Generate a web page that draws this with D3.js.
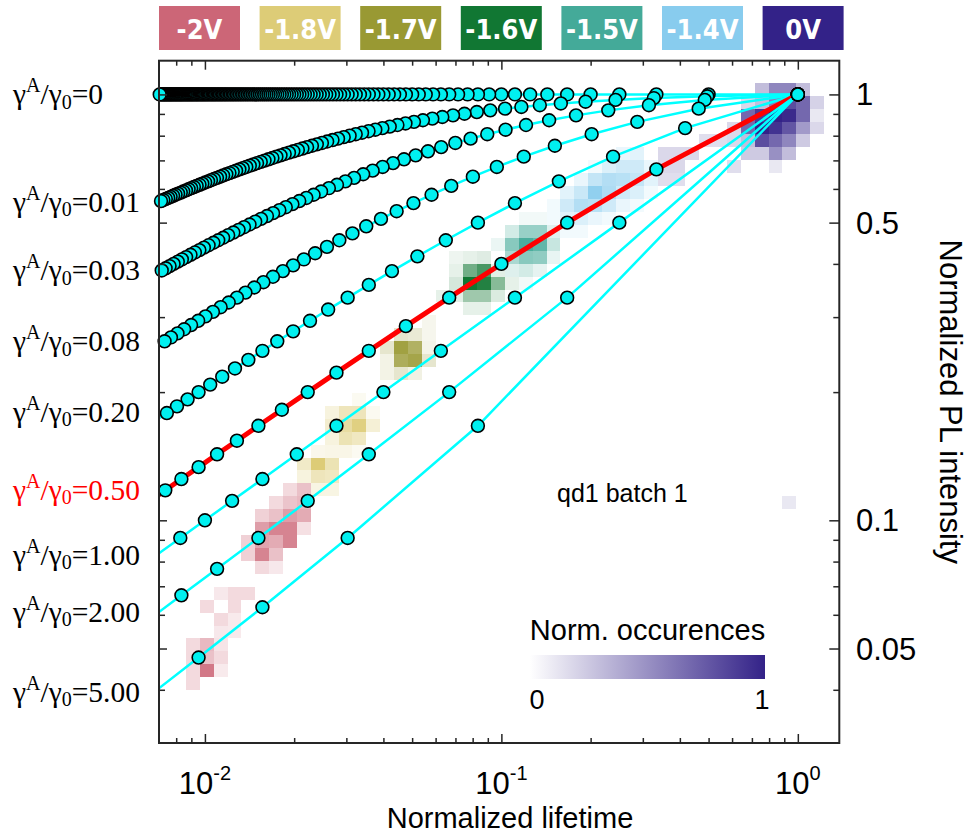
<!DOCTYPE html>
<html>
<head>
<meta charset="utf-8">
<script src="https://cdn.jsdelivr.net/npm/d3@7"></script>
<style>
  html, body { margin: 0; padding: 0; background: #fff; }
  svg { display: block; }
</style>
</head>
<body>
<svg id="chart" width="968" height="833"></svg>
<script>
// ---------------------------------------------------------------
// Data
// ---------------------------------------------------------------
const voltages = ["-2V", "-1.8V", "-1.7V", "-1.6V", "-1.5V", "-1.4V", "0V"];
const voltageColors = ["#CC6677", "#DDCC77", "#999933", "#117733", "#44AA99", "#88CCEE", "#332288"];

// Auger-to-radiative rate ratios of the model curves and their labels
const augerRatios = [0, 0.01, 0.03, 0.08, 0.2, 0.5, 1, 2, 5];
const augerLabels = ["0", "0.01", "0.03", "0.08", "0.20", "0.50", "1.00", "2.00", "5.00"];
const augerLabelIntensity = [1, 0.56, 0.387, 0.263, 0.18, 0.118, 0.083, 0.061, 0.0396];
const highlightedRatio = 0.5;

// model curves: normalized lifetime / normalized PL intensity
const lifetimeR0 = [1,0.5,0.3333,0.25,0.2,0.1667,0.1429,0.125,0.1111,0.1,
  0.09091,0.08333,0.07692,0.07143,0.06667,0.0625,0.05882,0.05556,0.05263,0.05,
  0.04762,0.04545,0.04348,0.04167,0.04,0.03846,0.03704,0.03571,0.03448,0.03333,
  0.03226,0.03125,0.0303,0.02941,0.02857,0.02778,0.02703,0.02632,0.02564,0.025,
  0.02439,0.02381,0.02326,0.02273,0.02222,0.02174,0.02128,0.02083,0.02041,0.02,
  0.01961,0.01923,0.01887,0.01852,0.01818,0.01786,0.01754,0.01724,0.01695,0.01667,
  0.01639,0.01613,0.01587,0.01563,0.01538,0.01515,0.01493,0.01471,0.01449,0.01429,
  0.01408,0.01389,0.0137,0.01351,0.01333,0.01316,0.01299,0.01282,0.01266,0.0125,
  0.01235,0.0122,0.01205,0.0119,0.01176,0.01163,0.01149,0.01136,0.01124,0.01111,
  0.01099,0.01087,0.01075,0.01064,0.01053,0.01042,0.01031,0.0102,0.0101,0.01,
  0.0099,0.0098,0.00971,0.00962,0.00952,0.00943,0.00935,0.00926,0.00917,0.00909,
  0.00901,0.00893,0.00885,0.00877,0.0087,0.00862,0.00855,0.00847,0.0084,0.00833,
  0.00826,0.0082,0.00813,0.00806,0.008,0.00794,0.00787,0.00781,0.00775,0.00769,
  0.00763,0.00758,0.00752,0.00746,0.00741,0.00735,0.0073,0.00725,0.00719,0.00714,
  0.00709,0.00704,0.00699];
const intensityR0 = [1,1,1,1,1,1,1,1,1,1, 1,1,1,1,1,1,1,1,1,1, 1,1,1,1,1,1,1,1,1,1,
  1,1,1,1,1,1,1,1,1,1, 1,1,1,1,1,1,1,1,1,1, 1,1,1,1,1,1,1,1,1,1, 1,1,1,1,1,1,1,1,1,1,
  1,1,1,1,1,1,1,1,1,1, 1,1,1,1,1,1,1,1,1,1, 1,1,1,1,1,1,1,1,1,1, 1,1,1,1,1,1,1,1,1,1,
  1,1,1,1,1,1,1,1,1,1, 1,1,1,1,1,1,1,1,1,1, 1,1,1,1,1,1,1,1,1,1, 1,1,1];

const lifetimeR001 = [1,0.495,0.3268,0.2427,0.1923,0.1587,0.1348,0.1168,0.1029,0.09174,
  0.08264,0.07508,0.06868,0.06321,0.05848,0.05435,0.05071,0.04748,0.0446,0.04202,
  0.03968,0.03757,0.03564,0.03388,0.03226,0.03077,0.02939,0.02812,0.02694,0.02584,
  0.02481,0.02385,0.02296,0.02211,0.02132,0.02058,0.01987,0.01921,0.01858,0.01799,
  0.01742,0.01689,0.01638,0.01589,0.01543,0.01499,0.01457,0.01417,0.01379,0.01342,
  0.01307,0.01274,0.01241,0.0121,0.01181,0.01152,0.01125,0.01098,0.01073,0.01048,
  0.01025,0.01002,0.0098,0.00959,0.00938,0.00918,0.00899,0.00881,0.00863,0.00845,
  0.00829,0.00812,0.00796,0.00781,0.00766,0.00752,0.00738,0.00724,0.00711,0.00698];
const intensityR001 = [1,0.9901,0.9804,0.9709,0.9615,0.9524,0.9434,0.9346,0.9259,0.9174,
  0.9091,0.9009,0.8929,0.885,0.8772,0.8696,0.8621,0.8547,0.8475,0.8403,
  0.8333,0.8264,0.8197,0.813,0.8065,0.8,0.7937,0.7874,0.7813,0.7752,
  0.7692,0.7634,0.7576,0.7519,0.7463,0.7407,0.7353,0.7299,0.7246,0.7194,
  0.7143,0.7092,0.7042,0.6993,0.6944,0.6897,0.6849,0.6803,0.6757,0.6711,
  0.6667,0.6623,0.6579,0.6536,0.6494,0.6452,0.641,0.6369,0.6329,0.6289,
  0.625,0.6211,0.6173,0.6135,0.6098,0.6061,0.6024,0.5988,0.5952,0.5917,
  0.5882,0.5848,0.5814,0.578,0.5747,0.5714,0.5682,0.565,0.5618,0.5587];

const lifetimeR003 = [1,0.4854,0.3145,0.2294,0.1786,0.1449,0.1211,0.1033,0.08961,0.07874,
  0.06993,0.06266,0.05656,0.05139,0.04695,0.0431,0.03975,0.03679,0.03418,0.03185,
  0.02976,0.02789,0.02619,0.02465,0.02326,0.02198,0.02081,0.01973,0.01874,0.01783,
  0.01698,0.01619,0.01546,0.01478,0.01414,0.01355,0.01299,0.01247,0.01198,0.01152,
  0.01109,0.01068,0.01029,0.00992,0.00958,0.00925,0.00894,0.00864,0.00836,0.0081,
  0.00784,0.0076,0.00737,0.00715,0.00694];
const intensityR003 = [1,0.9709,0.9434,0.9174,0.8929,0.8696,0.8475,0.8264,0.8065,0.7874,
  0.7692,0.7519,0.7353,0.7194,0.7042,0.6897,0.6757,0.6623,0.6494,0.6369,
  0.625,0.6135,0.6024,0.5917,0.5814,0.5714,0.5618,0.5525,0.5435,0.5348,
  0.5263,0.5181,0.5102,0.5025,0.495,0.4878,0.4808,0.4739,0.4673,0.4608,
  0.4545,0.4484,0.4425,0.4367,0.431,0.4255,0.4202,0.4149,0.4098,0.4049,
  0.4,0.3953,0.3906,0.3861,0.3817];

const lifetimeR008 = [1,0.463,0.2874,0.2016,0.1515,0.119,0.09653,0.08013,0.06775,0.05814,
  0.05051,0.04433,0.03925,0.03501,0.03145,0.02841,0.0258,0.02354,0.02157,0.01984,
  0.01832,0.01696,0.01575,0.01467,0.0137,0.01282,0.01203,0.0113,0.01064,0.01004,
  0.00949,0.00898,0.00851,0.00808,0.00768,0.00731,0.00697];
const intensityR008 = [1,0.9259,0.8621,0.8065,0.7576,0.7143,0.6757,0.641,0.6098,0.5814,
  0.5556,0.5319,0.5102,0.4902,0.4717,0.4545,0.4386,0.4237,0.4098,0.3968,
  0.3846,0.3731,0.3623,0.3521,0.3425,0.3333,0.3247,0.3165,0.3086,0.3012,
  0.2941,0.2874,0.2809,0.2747,0.2688,0.2632,0.2577];

const lifetimeR02 = [1,0.4167,0.2381,0.1563,0.1111,0.08333,0.06494,0.05208,0.04274,0.03571,
  0.0303,0.02604,0.02262,0.01984,0.01754,0.01563,0.01401,0.01263,0.01144,0.01042,
  0.00952,0.00874,0.00805,0.00744,0.0069];
const intensityR02 = [1,0.8333,0.7143,0.625,0.5556,0.5,0.4545,0.4167,0.3846,0.3571,
  0.3333,0.3125,0.2941,0.2778,0.2632,0.25,0.2381,0.2273,0.2174,0.2083,
  0.2,0.1923,0.1852,0.1786,0.1724];

const lifetimeR05 = [1,0.3333,0.1667,0.1,0.06667,0.04762,0.03571,0.02778,0.02222,0.01818,
  0.01515,0.01282,0.01099,0.00952,0.00833,0.00735,0.00654];
const intensityR05 = [1,0.6667,0.5,0.4,0.3333,0.2857,0.25,0.2222,0.2,0.1818,
  0.1667,0.1538,0.1429,0.1333,0.125,0.1176,0.1111];

const lifetimeR1 = [1,0.25,0.1111,0.0625,0.04,0.02778,0.02041,0.01563,0.01235,0.01,0.00826,0.00694];
const intensityR1 = [1,0.5,0.3333,0.25,0.2,0.1667,0.1429,0.125,0.1111,0.1,0.09091,0.08333];

const lifetimeR2 = [1,0.1667,0.06667,0.03571,0.02222,0.01515,0.01099,0.00833,0.00654];
const intensityR2 = [1,0.3333,0.2,0.1429,0.1111,0.09091,0.07692,0.06667,0.05882];

const lifetimeR5 = [1,0.08333,0.0303,0.01563,0.00952,0.00641];
const intensityR5 = [1,0.1667,0.09091,0.0625,0.04762,0.03846];

// 2D histograms of measured (lifetime, intensity) per voltage.
// Each cell: [lifetime bin, intensity bin, normalized occurrence]
const histLogOrigin = { lifetime: -0.005, intensity: -0.00305 };   // log10 of bin 0 lower edge
const histLogStep = { lifetime: 0.0468, intensity: 0.03034 };       // bin width in decades

const histM2V = [
  [-42,-39,0.08],[-41,-39,0.15],[-40,-39,0.15],
  [-43,-40,0.15],[-41,-40,0.15],
  [-42,-41,0.15],[-41,-41,0.07],
  [-42,-42,0.08],[-41,-42,0.07],
  [-44,-43,0.15],[-43,-43,0.35],[-42,-43,0.1],
  [-44,-44,0.15],[-43,-44,0.3],[-42,-44,0.15],
  [-44,-45,0.15],[-43,-45,0.85],[-42,-45,0.07],
  [-44,-46,0.15],
  [-37,-31,0.15],[-36,-31,0.3],
  [-38,-32,0.15],[-37,-32,0.28],[-36,-32,0.35],
  [-39,-33,0.2],[-38,-33,0.3],[-37,-33,0.55],[-36,-33,0.45],
  [-39,-34,0.55],[-38,-34,0.75],[-37,-34,0.75],[-36,-34,0.12],
  [-40,-35,0.2],[-39,-35,0.5],[-38,-35,0.45],[-37,-35,0.75],
  [-40,-36,0.2],[-39,-36,0.75],[-38,-36,0.3],
  [-39,-37,0.15],[-38,-37,0.08]
];
const histM18V = [
  [-32,-24,0.05],
  [-34,-25,0.15],[-33,-25,0.4],[-32,-25,0.4],[-31,-25,0.05],
  [-34,-26,0.25],[-33,-26,0.6],[-32,-26,0.9],[-31,-26,0.2],
  [-34,-27,0.15],[-33,-27,0.45],[-32,-27,0.35],
  [-34,-28,0.1],[-33,-28,0.1],[-32,-28,0.05],
  [-35,-28,0.08],
  [-36,-29,0.3],[-35,-29,1.0],[-34,-29,0.45],
  [-36,-30,0.15],[-35,-30,0.4],[-34,-30,0.35],
  [-35,-31,0.12],[-34,-31,0.12]
];
const histM17V = [
  [-27,-18,0.04],
  [-29,-19,0.15],[-28,-19,0.12],[-27,-19,0.04],
  [-30,-20,0.15],[-29,-20,0.9],[-28,-20,0.7],[-27,-20,0.05],
  [-30,-21,0.06],[-29,-21,0.75],[-28,-21,0.85],[-27,-21,0.15],
  [-30,-22,0.06],[-29,-22,0.15],[-28,-22,0.07]
];
const histM16V = [
  [-25,-13,0.03],[-24,-13,0.05],[-23,-13,0.07],
  [-25,-14,0.05],[-24,-14,0.5],[-23,-14,0.7],[-22,-14,0.06],
  [-25,-15,0.1],[-24,-15,1.0],[-23,-15,0.9],[-22,-15,0.4],[-21,-15,0.05],
  [-26,-16,0.05],[-25,-16,0.06],[-24,-16,0.3],[-23,-16,0.3],[-22,-16,0.08],
  [-24,-17,0.05],[-23,-17,0.05]
];
const histM15V = [
  [-20,-10,0.03],[-19,-10,0.03],
  [-21,-11,0.15],[-20,-11,0.45],[-19,-11,0.45],[-18,-11,0.1],
  [-22,-12,0.05],[-21,-12,0.55],[-20,-12,0.95],[-19,-12,0.8],[-18,-12,0.2],
  [-21,-13,0.35],[-20,-13,0.55],[-19,-13,0.5],[-18,-13,0.06],
  [-21,-14,0.1],[-20,-14,0.15],[-19,-14,0.07],
  [-20,-15,0.03]
];
const histM14V = [
  [-13,-5,0.1],[-12,-5,0.15],
  [-15,-6,0.05],[-14,-6,0.2],[-13,-6,0.3],[-12,-6,0.3],[-11,-6,0.1],
  [-16,-7,0.1],[-15,-7,0.4],[-14,-7,0.55],[-13,-7,0.5],[-12,-7,0.4],[-11,-7,0.15],
  [-17,-8,0.15],[-16,-8,0.35],[-15,-8,0.9],[-14,-8,0.6],[-13,-8,0.3],[-12,-8,0.2],[-11,-8,0.05],
  [-18,-9,0.05],[-17,-9,0.3],[-16,-9,0.55],[-15,-9,0.5],[-14,-9,0.3],[-13,-9,0.1],[-12,-9,0.05],
  [-18,-10,0.05],[-17,-10,0.15],[-16,-10,0.2],[-15,-10,0.1],[-14,-10,0.05],
  [-17,-11,0.05],[-16,-11,0.05]
];
const hist0V = [
  [-3,0,0.2],[-2,0,0.45],[-1,0,0.45],[0,0,0.2],
  [-4,-1,0.1],[-3,-1,0.2],[-2,-1,0.5],[-1,-1,0.75],[0,-1,0.6],[1,-1,0.12],
  [-4,-2,0.6],[-3,-2,0.85],[-2,-2,1.0],[-1,-2,0.95],[0,-2,0.6],[1,-2,0.05],
  [-5,-3,0.1],[-4,-3,0.6],[-3,-3,1.0],[-2,-3,0.9],[-1,-3,0.7],[0,-3,0.35],[1,-3,0.1],
  [-7,-4,0.08],[-6,-4,0.08],[-5,-4,0.1],[-4,-4,0.2],[-3,-4,0.75],[-2,-4,0.6],[-1,-4,0.45],[0,-4,0.15],
  [-10,-5,0.1],[-9,-5,0.1],[-8,-5,0.1],[-4,-5,0.15],[-3,-5,0.15],[-2,-5,0.4],[-1,-5,0.2],
  [-10,-6,0.1],[-9,-6,0.1],[-5,-6,0.08],[-2,-6,0.05],
  [-10,-7,0.08],[-9,-7,0.08],
  [-1,-32,0.05]
];
const histograms = [histM2V, histM18V, histM17V, histM16V, histM15V, histM14V, hist0V];

// axes
const lifetimeDomain = [0.007, 1.38];
const intensityDomain = [0.03, 1.2];
const lifetimeTickLabels = [0.01, 0.1, 1];
const lifetimeTickExponents = ["-2", "-1", "0"];
const intensityTickLabels = [1, 0.5, 0.1, 0.05];
const colorbarTicks = ["0", "1"];

// ---------------------------------------------------------------
// Layout and scales
// ---------------------------------------------------------------
const svg = d3.select("#chart");
const plot = { left: 159, right: 839.3, top: 60.7, bottom: 743 };
const x = d3.scaleLog().domain(lifetimeDomain).range([plot.left, plot.right]);
const y = d3.scaleLog().domain(intensityDomain).range([plot.bottom, plot.top]);
// occurrence -> colour weight (slightly lifts the faint cells)
const occurrenceWeight = d3.scalePow().exponent(0.75).domain([0, 1]).range([0, 1]);

const sansFont = "'Liberation Sans', Arial, Helvetica, sans-serif";
const serifFont = "'Liberation Serif', 'Times New Roman', Times, serif";
const axisColor = "#262626";

svg.append("defs").append("clipPath").attr("id", "plot-clip")
  .append("rect")
  .attr("x", plot.left).attr("y", plot.top)
  .attr("width", plot.right - plot.left).attr("height", plot.bottom - plot.top);

// ---------------------------------------------------------------
// Histogram cells
// ---------------------------------------------------------------
const binX = i => Math.round(x(Math.pow(10, histLogOrigin.lifetime + i * histLogStep.lifetime)));
const binY = j => Math.round(y(Math.pow(10, histLogOrigin.intensity + j * histLogStep.intensity)));

const cellLayer = svg.append("g").attr("shape-rendering", "crispEdges");
histograms.forEach((cells, k) => {
  const shade = d3.interpolateRgb("#ffffff", voltageColors[k]);
  cellLayer.append("g").selectAll("rect")
    .data(cells)
    .join("rect")
    .attr("x", d => binX(d[0]))
    .attr("width", d => binX(d[0] + 1) - binX(d[0]))
    .attr("y", d => binY(d[1] + 1))
    .attr("height", d => binY(d[1]) - binY(d[1] + 1))
    .attr("fill", d => shade(occurrenceWeight(d[2])));
});

// ---------------------------------------------------------------
// Model curves
// ---------------------------------------------------------------
const curveLifetimes = [lifetimeR0, lifetimeR001, lifetimeR003, lifetimeR008, lifetimeR02,
                        lifetimeR05, lifetimeR1, lifetimeR2, lifetimeR5];
const curveIntensities = [intensityR0, intensityR001, intensityR003, intensityR008, intensityR02,
                          intensityR05, intensityR1, intensityR2, intensityR5];
const curves = augerRatios.map((r, k) => ({
  ratio: r,
  points: curveLifetimes[k].map((t, n) => ({ t, v: curveIntensities[k][n] }))
}));

const line = d3.line().x(d => x(d.t)).y(d => y(d.v));
const lineLayer = svg.append("g").attr("clip-path", "url(#plot-clip)");
curves.forEach(c => {
  const hot = c.ratio === highlightedRatio;
  lineLayer.append("path")
    .datum(c.points)
    .attr("fill", "none")
    .attr("stroke", hot ? "#ff0000" : "#00ffff")
    .attr("stroke-width", hot ? 5 : 2.5)
    .attr("stroke-linejoin", "round")
    .attr("d", line);
});

const dotLayer = svg.append("g");
curves.forEach(c => {
  dotLayer.append("g").selectAll("circle")
    .data(c.points.filter(p => p.t >= lifetimeDomain[0]))
    .join("circle")
    .attr("cx", d => x(d.t))
    .attr("cy", d => y(d.v))
    .attr("r", 6.4)
    .attr("fill", "#00f0f0")
    .attr("stroke", "#000")
    .attr("stroke-width", 1.6);
});

// ---------------------------------------------------------------
// Axes: box with inward ticks on all four sides
// ---------------------------------------------------------------
const isDecade = v => Math.abs(Math.log10(v) - Math.round(Math.log10(v))) < 1e-6;
const xTicks = x.ticks().filter(v => v > lifetimeDomain[0] * 1.001 && v < lifetimeDomain[1]);
const xMinor = xTicks.filter(v => !isDecade(v));
const yTicks = y.ticks().filter(v => v > intensityDomain[0] * 1.001 && v < intensityDomain[1]);
const yMajor = yTicks.filter(v => intensityTickLabels.some(l => Math.abs(l - v) < 1e-9));
const yMinor = yTicks.filter(v => !yMajor.includes(v));

function tickAxis(axisGen, transform, values, size) {
  const g = svg.append("g")
    .attr("transform", transform)
    .call(axisGen.tickValues(values).tickSize(-size).tickSizeOuter(0).tickFormat(""));
  g.select(".domain").remove();
  g.selectAll(".tick line").attr("stroke", axisColor).attr("stroke-width", 1.5);
  return g;
}
tickAxis(d3.axisBottom(x), `translate(0,${plot.bottom})`, xMinor, 5);
tickAxis(d3.axisBottom(x), `translate(0,${plot.bottom})`, lifetimeTickLabels, 9);
tickAxis(d3.axisTop(x), `translate(0,${plot.top})`, xMinor, 5);
tickAxis(d3.axisTop(x), `translate(0,${plot.top})`, lifetimeTickLabels, 9);
tickAxis(d3.axisLeft(y), `translate(${plot.left},0)`, yMinor, 6);
tickAxis(d3.axisLeft(y), `translate(${plot.left},0)`, yMajor, 8);
tickAxis(d3.axisRight(y), `translate(${plot.right},0)`, yMinor, 6);
tickAxis(d3.axisRight(y), `translate(${plot.right},0)`, yMajor, 10);

svg.append("rect")
  .attr("x", plot.left).attr("y", plot.top)
  .attr("width", plot.right - plot.left).attr("height", plot.bottom - plot.top)
  .attr("fill", "none").attr("stroke", axisColor).attr("stroke-width", 2);

// bottom decade labels 10^n
const xLabels = svg.append("g").attr("font-family", sansFont).attr("fill", "#000");
lifetimeTickLabels.forEach((v, k) => {
  const t = xLabels.append("text")
    .attr("x", x(v)).attr("y", 794)
    .attr("text-anchor", "middle")
    .attr("font-size", 31);
  t.append("tspan").text("10");
  t.append("tspan").attr("dy", -14).attr("font-size", 20).text(lifetimeTickExponents[k]);
});

// right intensity labels
svg.append("g").attr("font-family", sansFont).attr("font-size", 31).attr("fill", "#000")
  .selectAll("text")
  .data(intensityTickLabels)
  .join("text")
  .attr("x", 856)
  .attr("y", d => y(d) + 11)
  .text(d => String(d));

// axis titles
svg.append("text")
  .attr("x", 510).attr("y", 828)
  .attr("text-anchor", "middle")
  .attr("font-family", sansFont).attr("font-size", 29).attr("fill", "#000")
  .text("Normalized lifetime");

svg.append("text")
  .attr("transform", `translate(940,${(plot.top + plot.bottom) / 2}) rotate(90)`)
  .attr("text-anchor", "middle")
  .attr("font-family", sansFont).attr("font-size", 31).attr("fill", "#000")
  .text("Normalized PL intensity");

// ---------------------------------------------------------------
// Curve labels on the left: gamma^A / gamma_0 = value
// ---------------------------------------------------------------
const ratioLabels = svg.append("g").attr("font-family", serifFont).attr("font-size", 29.5);
augerLabels.forEach((lab, k) => {
  const t = ratioLabels.append("text")
    .attr("x", 13)
    .attr("y", y(augerLabelIntensity[k]) + 10)
    .attr("fill", augerRatios[k] === highlightedRatio ? "#ff0000" : "#000");
  t.append("tspan").text("\u03B3");
  t.append("tspan").attr("dy", -12).attr("font-size", 20).text("A");
  t.append("tspan").attr("dy", 12).text("/\u03B3");
  t.append("tspan").attr("dy", 4.5).attr("font-size", 20).text("0");
  t.append("tspan").attr("dy", -4.5).text("=" + lab);
});

// ---------------------------------------------------------------
// Voltage legend across the top
// ---------------------------------------------------------------
const legend = svg.append("g");
voltages.forEach((v, k) => {
  const x0 = 159 + k * 100.6;
  legend.append("rect")
    .attr("x", x0).attr("y", 6).attr("width", 81).attr("height", 44)
    .attr("fill", voltageColors[k]);
  legend.append("text")
    .attr("x", x0 + 40.5).attr("y", 38.5)
    .attr("text-anchor", "middle")
    .attr("font-family", "'DejaVu Sans Condensed', 'DejaVu Sans', sans-serif")
    .attr("font-stretch", "condensed")
    .attr("font-weight", "bold")
    .attr("font-size", 27)
    .attr("fill", "#ffffff")
    .text(v);
});

// ---------------------------------------------------------------
// Annotation and colorbar
// ---------------------------------------------------------------
svg.append("text")
  .attr("x", 557).attr("y", 502)
  .attr("font-family", sansFont).attr("font-size", 25).attr("fill", "#000")
  .text("qd1 batch 1");

const grad = svg.select("defs").append("linearGradient")
  .attr("id", "occ-grad").attr("x1", "0%").attr("x2", "100%");
grad.append("stop").attr("offset", "0%").attr("stop-color", "#ffffff");
grad.append("stop").attr("offset", "100%").attr("stop-color", voltageColors[6]);

const cbar = { x: 530, y: 655, w: 235, h: 24 };
svg.append("rect")
  .attr("x", cbar.x).attr("y", cbar.y).attr("width", cbar.w).attr("height", cbar.h)
  .attr("fill", "url(#occ-grad)");
svg.append("text")
  .attr("x", cbar.x + cbar.w / 2).attr("y", 640)
  .attr("text-anchor", "middle")
  .attr("font-family", sansFont).attr("font-size", 29).attr("fill", "#000")
  .text("Norm. occurences");
svg.append("g").attr("font-family", sansFont).attr("font-size", 27).attr("fill", "#000")
  .selectAll("text")
  .data(colorbarTicks)
  .join("text")
  .attr("x", (d, k) => k === 0 ? cbar.x + 7 : cbar.x + cbar.w - 3)
  .attr("y", 709)
  .attr("text-anchor", "middle")
  .text(d => d);
</script>
</body>
</html>
